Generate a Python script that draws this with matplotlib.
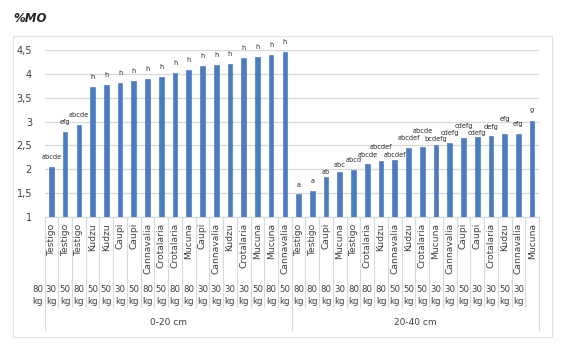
import matplotlib
matplotlib.use('Agg')
import matplotlib.pyplot as plt
from matplotlib.patches import Rectangle
import numpy as np

plt.rcParams['font.family'] = ['DejaVu Sans']

# data
groups = ['0-20 cm', '20-40 cm']
names_0_20 = ['Testigo', 'Testigo', 'Testigo', 'Kudzu', 'Kudzu', 'Caupi', 'Caupi',
              'Cannavalia', 'Crotalaria', 'Crotalaria', 'Mucuna', 'Caupi', 'Cannavalia',
              'Kudzu', 'Crotalaria', 'Mucuna', 'Mucuna', 'Cannavalia']
names_20_40 = ['Testigo', 'Testigo', 'Caupi', 'Mucuna', 'Testigo', 'Crotalaria', 'Kudzu',
               'Cannavalia', 'Kudzu', 'Crotalaria', 'Mucuna', 'Cannavalia', 'Caupi', 'Caupi',
               'Crotalaria', 'Kudzu', 'Cannavalia', 'Mucuna']
mo_0_20 = [2.05, 2.79, 2.93, 3.73, 3.76, 3.81, 3.86, 3.89, 3.93, 4.02, 4.08, 4.16,
           4.18, 4.20, 4.33, 4.35, 4.39, 4.45]
mo_20_40 = [1.48, 1.55, 1.83, 1.94, 1.99, 2.12, 2.18, 2.20, 2.45, 2.47, 2.50, 2.56,
            2.66, 2.67, 2.70, 2.75, 2.75, 3.02]
letters_0_20 = ['abcde', 'efg', 'abcde'] + ['h'] * 15
letters_20_40 = ['a', 'a', 'ab', 'abc', 'abcd', 'abcde', 'abcdef', 'abcdef', 'abcdef',
                 'abcde', 'bcdefg', 'cdefg', 'cdefg', 'cdefg', 'defg', 'efg', 'efg', 'g']
# dose row as printed in the reference (it sits one column to the left)
doses = ['80', '30', '50', '80', '50', '50', '30', '50', '80', '50', '80', '80', '30', '30',
         '30', '30', '50', '80', '50', '80', '80', '80', '30', '80', '80', '80', '50', '50',
         '50', '30', '30', '50', '30', '30', '50', '30']

# label gap above each bar, in pixels (excel nudged some of them)
gap_px = [10] * 18 + [8.6, 9.3, 5, 6.7, 9.3, 8.3, 13.7, 5, 10, 16, 6.7, 10, 11.7, 4.3,
                      8.7, 14, 9.7, 10.7]

names = names_0_20 + names_20_40
vals = mo_0_20 + mo_20_40
letters = letters_0_20 + letters_20_40
n = len(vals)
x = np.arange(n)

W, H = 566, 354
fig = plt.figure(figsize=(W / 100, H / 100), dpi=100)

AX_L, AX_R, AX_T, AX_B = 44.5, 539, 50, 217
ax = fig.add_axes([AX_L / W, 1 - AX_B / H, (AX_R - AX_L) / W, (AX_B - AX_T) / H])


def ypx(p):
    # pixel row below the axes -> axes fraction
    return (AX_B - p) / (AX_B - AX_T)


grid_c = '#d9d9d9'
bar_c = '#4a7cc4'
txt_c = '#404040'

ax.bar(x, vals, width=0.34, color=bar_c, edgecolor='#3f6fb3', linewidth=0.4, zorder=3)
ax.set_xlim(-0.5, n - 0.5)
ax.set_ylim(1, 4.5)
yt = np.arange(1, 4.51, 0.5)
ax.set_yticks(yt)
ax.set_yticklabels([('%g' % v).replace('.', ',') for v in yt], fontsize=7, color=txt_c)
ax.set_xticks([])
ax.tick_params(axis='y', length=0, pad=9)
ax.yaxis.grid(True, color=grid_c, linewidth=0.9, zorder=0)
for s in ['top', 'right', 'left']:
    ax.spines[s].set_visible(False)
ax.spines['bottom'].set_color(grid_c)
ax.spines['bottom'].set_linewidth(0.9)

for xi, v, lab, g in zip(x, vals, letters, gap_px):
    ax.annotate(lab, (xi, v), xytext=(0, g * 0.72), textcoords='offset points',
                ha='center', va='center', fontsize=4.7, color='#262626',
                annotation_clip=False)

tr = ax.get_xaxis_transform()
for xi, name in zip(x, names):
    ax.text(xi, ypx(223), name, rotation=90, ha='center', va='top', fontsize=6.6,
            color=txt_c, transform=tr)
for xi, d in zip(x - 1, doses):
    ax.text(xi, ypx(290), d, ha='center', va='center', fontsize=6.2, color=txt_c,
            transform=tr)
    ax.text(xi, ypx(302), 'kg', ha='center', va='center', fontsize=6.2, color=txt_c,
            transform=tr)

for k in range(n + 1):
    end = 330 if k in (0, n // 2, n) else 307
    ax.plot([k - 0.5, k - 0.5], [0, ypx(end)], color=grid_c, linewidth=0.8,
            transform=tr, clip_on=False)

half = n // 2
for gi, gname in enumerate(groups):
    ax.text(gi * half + (half - 1) / 2, ypx(323), gname, ha='center', va='center',
            fontsize=6.5, color=txt_c, transform=tr)

fig.patches.append(Rectangle((13 / W, 1 - 337 / H), (552 - 13) / W, (337 - 36) / H,
                             transform=fig.transFigure, fill=False,
                             edgecolor='#dde3ec', linewidth=0.8))
fig.text(13 / W, 1 - 18 / H, '%MO', fontsize=8.5, fontweight='bold', fontstyle='italic',
         color='#262626', ha='left', va='center')

fig.savefig('out.png', dpi=100)
